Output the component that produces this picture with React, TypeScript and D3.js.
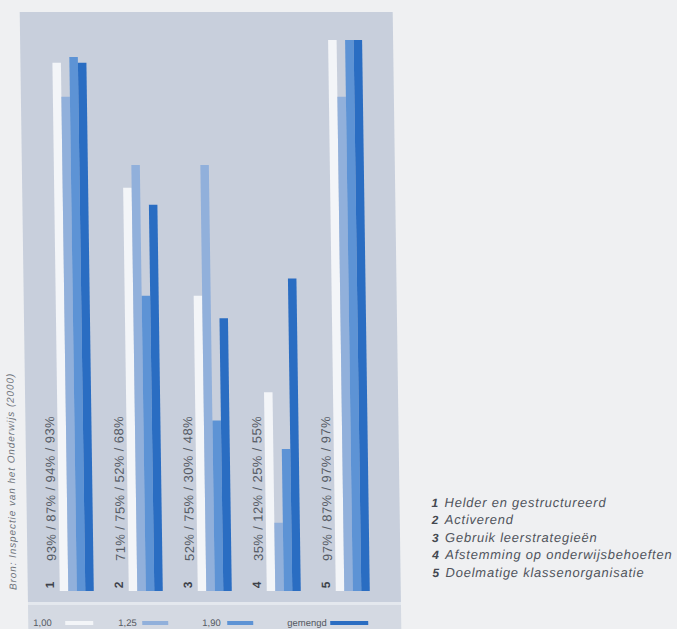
import React from 'react';
import * as d3 from 'd3';

const groups = ['1', '2', '3', '4', '5'];
const seriesNames = ['1,00', '1,25', '1,90', 'gemengd'];
const v100 = [93, 71, 52, 35, 97];
const v125 = [87, 75, 75, 12, 87];
const v190 = [94, 52, 30, 25, 97];
const vMix = [93, 68, 48, 55, 97];
const categoryNames = [
  'Helder en gestructureerd',
  'Activerend',
  'Gebruik leerstrategieën',
  'Afstemming op onderwijsbehoeften',
  'Doelmatige klassenorganisatie',
];
const sourceText = 'Bron: Inspectie van het Onderwijs (2000)';
const colors = ['#f3f5f8', '#91b0db', '#5d93d5', '#2a6dc2'];

const W = 677;
const H = 629;
const FONT = '"Liberation Sans", Arial, Helvetica, sans-serif';

export default function App() {
  const series = [v100, v125, v190, vMix];
  const y = d3.scaleLinear().domain([0, 100]).range([591, 23]);
  const x0 = d3.scaleBand<string>().domain(groups).range([56, 56 + 69 * 5]).paddingInner(0).align(0);
  const x1 = d3.scaleBand<string>().domain(seriesNames).range([0, 34]);

  const legendX = [29, 114, 198, 283];
  const swatchX = [61, 138, 223, 326];
  const swatchW = [28, 26, 26, 38];

  return (
    <div style={{ position: 'absolute', left: 0, top: 0 }}>
      <svg width={W} height={H} style={{ display: 'block', background: '#eff0f2' }} fontFamily={FONT}>
        <g transform="translate(0,320) skewX(0.8) translate(0,-320)">
          {/* panel */}
          <rect x={24} y={12} width={373} height={590} fill="#c8cfdc" />
          <rect x={24} y={602} width={373} height={3} fill="#e4e8ee" />
          <rect x={24} y={605} width={373} height={30} fill="#d4d9e2" />

          {/* bars */}
          {groups.map((g, gi) => (
            <g key={g} transform={`translate(${x0(g)},0)`}>
              {series.map((s, si) => (
                <rect
                  key={si}
                  x={x1(seriesNames[si])}
                  y={y(s[gi])}
                  width={x1.bandwidth()}
                  height={y(0) - y(s[gi])}
                  fill={colors[si]}
                />
              ))}
            </g>
          ))}

          {/* vertical value labels */}
          {groups.map((g, gi) => {
            const cx = (x0(g) as number) - 8;
            const label = `${v100[gi]}% / ${v125[gi]}% / ${v190[gi]}% / ${vMix[gi]}%`;
            return (
              <g key={'l' + g}>
                <text
                  transform={`translate(${cx},561) rotate(-90)`}
                  dy="0.36em"
                  fontSize={13}
                  letterSpacing={0.4}
                  fill="#575c66"
                >
                  {label}
                </text>
                <text
                  transform={`translate(${cx - 2},585) rotate(-90)`}
                  dy="0.36em"
                  textAnchor="middle"
                  fontSize={12}
                  fontWeight="bold"
                  fill="#3e424a"
                >
                  {g}
                </text>
              </g>
            );
          })}

          {/* source */}
          <text
            transform="translate(9,590) rotate(-90)"
            dy="0.36em"
            fontSize={10}
            fontStyle="italic"
            letterSpacing={0.9}
            fill="#70747c"
          >
            {sourceText}
          </text>

          {/* bottom legend */}
          {seriesNames.map((s, i) => (
            <g key={'lg' + s}>
              <text x={legendX[i]} y={626} fontSize={9.5} fill="#555a63">
                {s}
              </text>
              <rect x={swatchX[i]} y={621} width={swatchW[i]} height={4} fill={colors[i]} />
            </g>
          ))}

          {/* right legend */}
          {categoryNames.map((c, i) => (
            <g key={'c' + i}>
              <text x={429} y={507 + i * 17.5} fontSize={12} fontWeight="bold" fontStyle="italic" fill="#444850">
                {groups[i]}
              </text>
              <text x={442} y={507 + i * 17.5} fontSize={13} fontStyle="italic" letterSpacing={0.75} fill="#50545c">
                {c}
              </text>
            </g>
          ))}
        </g>
      </svg>
    </div>
  );
}
